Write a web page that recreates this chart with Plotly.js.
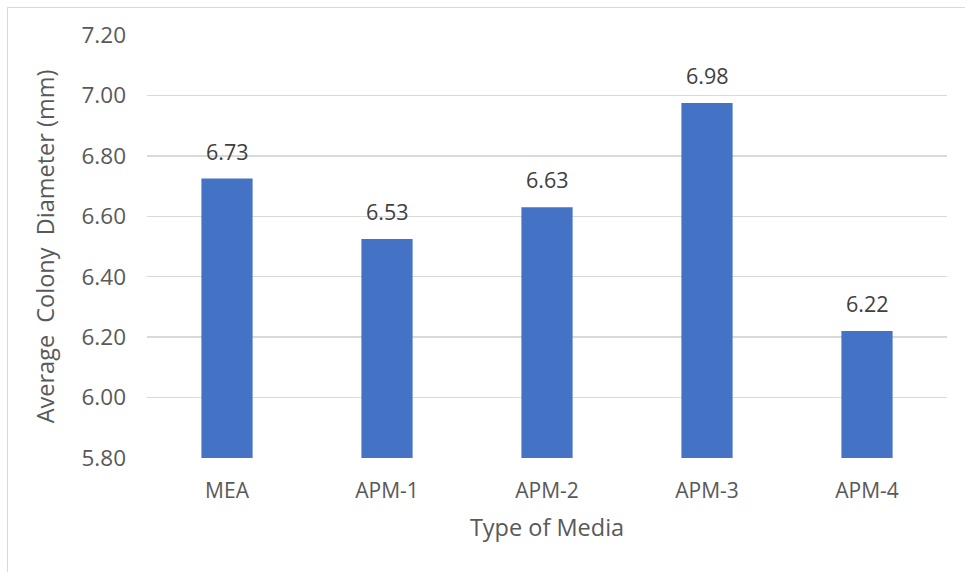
<!DOCTYPE html>
<html>
<head>
<meta charset="utf-8">
<script src="https://cdn.plot.ly/plotly-3.0.1.min.js"></script>
<style>
  html, body { margin: 0; padding: 0; background: #ffffff; }
  #frame { position: absolute; left: 7px; top: 7px; width: 958px; height: 565px;
           border-top: 1.5px solid #d9d9d9; border-left: 1.5px solid #d9d9d9; box-sizing: border-box; }
  #chart { position: absolute; left: 0; top: 0; width: 965px; height: 572px; }
</style>
</head>
<body>
<div id="frame"></div>
<div id="chart"></div>
<script>
const categories = ["MEA", "APM-1", "APM-2", "APM-3", "APM-4"];
const avgDiameter = [6.725, 6.525, 6.63, 6.975, 6.22];
const valueLabels = ["6.73", "6.53", "6.63", "6.98", "6.22"];
const yTickValues = [5.8, 6.0, 6.2, 6.4, 6.6, 6.8, 7.0, 7.2];
const yTickLabels = ["5.80", "6.00", "6.20", "6.40", "6.60", "6.80", "7.00", "7.20"];
const xTitle = "Type of Media";
const yTitle = "Average\u00a0\u00a0Colony\u00a0\u00a0Diameter (mm)";

const FONT = "Open Sans, Noto Sans, sans-serif";
const GREY = "#595959";
const AXIS_BASE = 5.8;

const trace = {
  type: "bar",
  x: categories,
  y: avgDiameter.map(v => v - AXIS_BASE),
  base: AXIS_BASE,
  marker: { color: "#4472c4", line: { width: 0 } },
  hoverinfo: "none"
};

const annotations = categories.map((c, i) => ({
  x: c, y: avgDiameter[i], xref: "x", yref: "y",
  text: valueLabels[i], showarrow: false, yanchor: "bottom", yshift: 11,
  font: { family: FONT, size: 21.5, color: "#404040" }
}));

const layout = {
  width: 965, height: 572,
  paper_bgcolor: "rgba(0,0,0,0)", plot_bgcolor: "rgba(0,0,0,0)",
  margin: { l: 147, r: 18, t: 35, b: 114 },
  bargap: 0.68,
  showlegend: false,
  font: { family: FONT, color: GREY },
  xaxis: {
    type: "category",
    showgrid: false, zeroline: false, showline: false, ticks: "",
    ticklabelstandoff: 18,
    tickfont: { family: FONT, size: 21, color: GREY },
    title: { text: xTitle, font: { family: FONT, size: 23.5, color: GREY }, standoff: 16 }
  },
  yaxis: {
    range: [5.8, 7.2],
    tickvals: yTickValues, ticktext: yTickLabels,
    showgrid: true, gridcolor: "#d9d9d9", gridwidth: 1.3,
    zeroline: false, showline: false, ticks: "",
    ticklabelstandoff: 20,
    tickfont: { family: FONT, size: 22.5, color: GREY },
    title: { text: yTitle, font: { family: FONT, size: 23.5, color: GREY }, standoff: 20 }
  },
  annotations: annotations
};

Plotly.newPlot("chart", [trace], layout, { displayModeBar: false, staticPlot: true });
</script>
</body>
</html>
